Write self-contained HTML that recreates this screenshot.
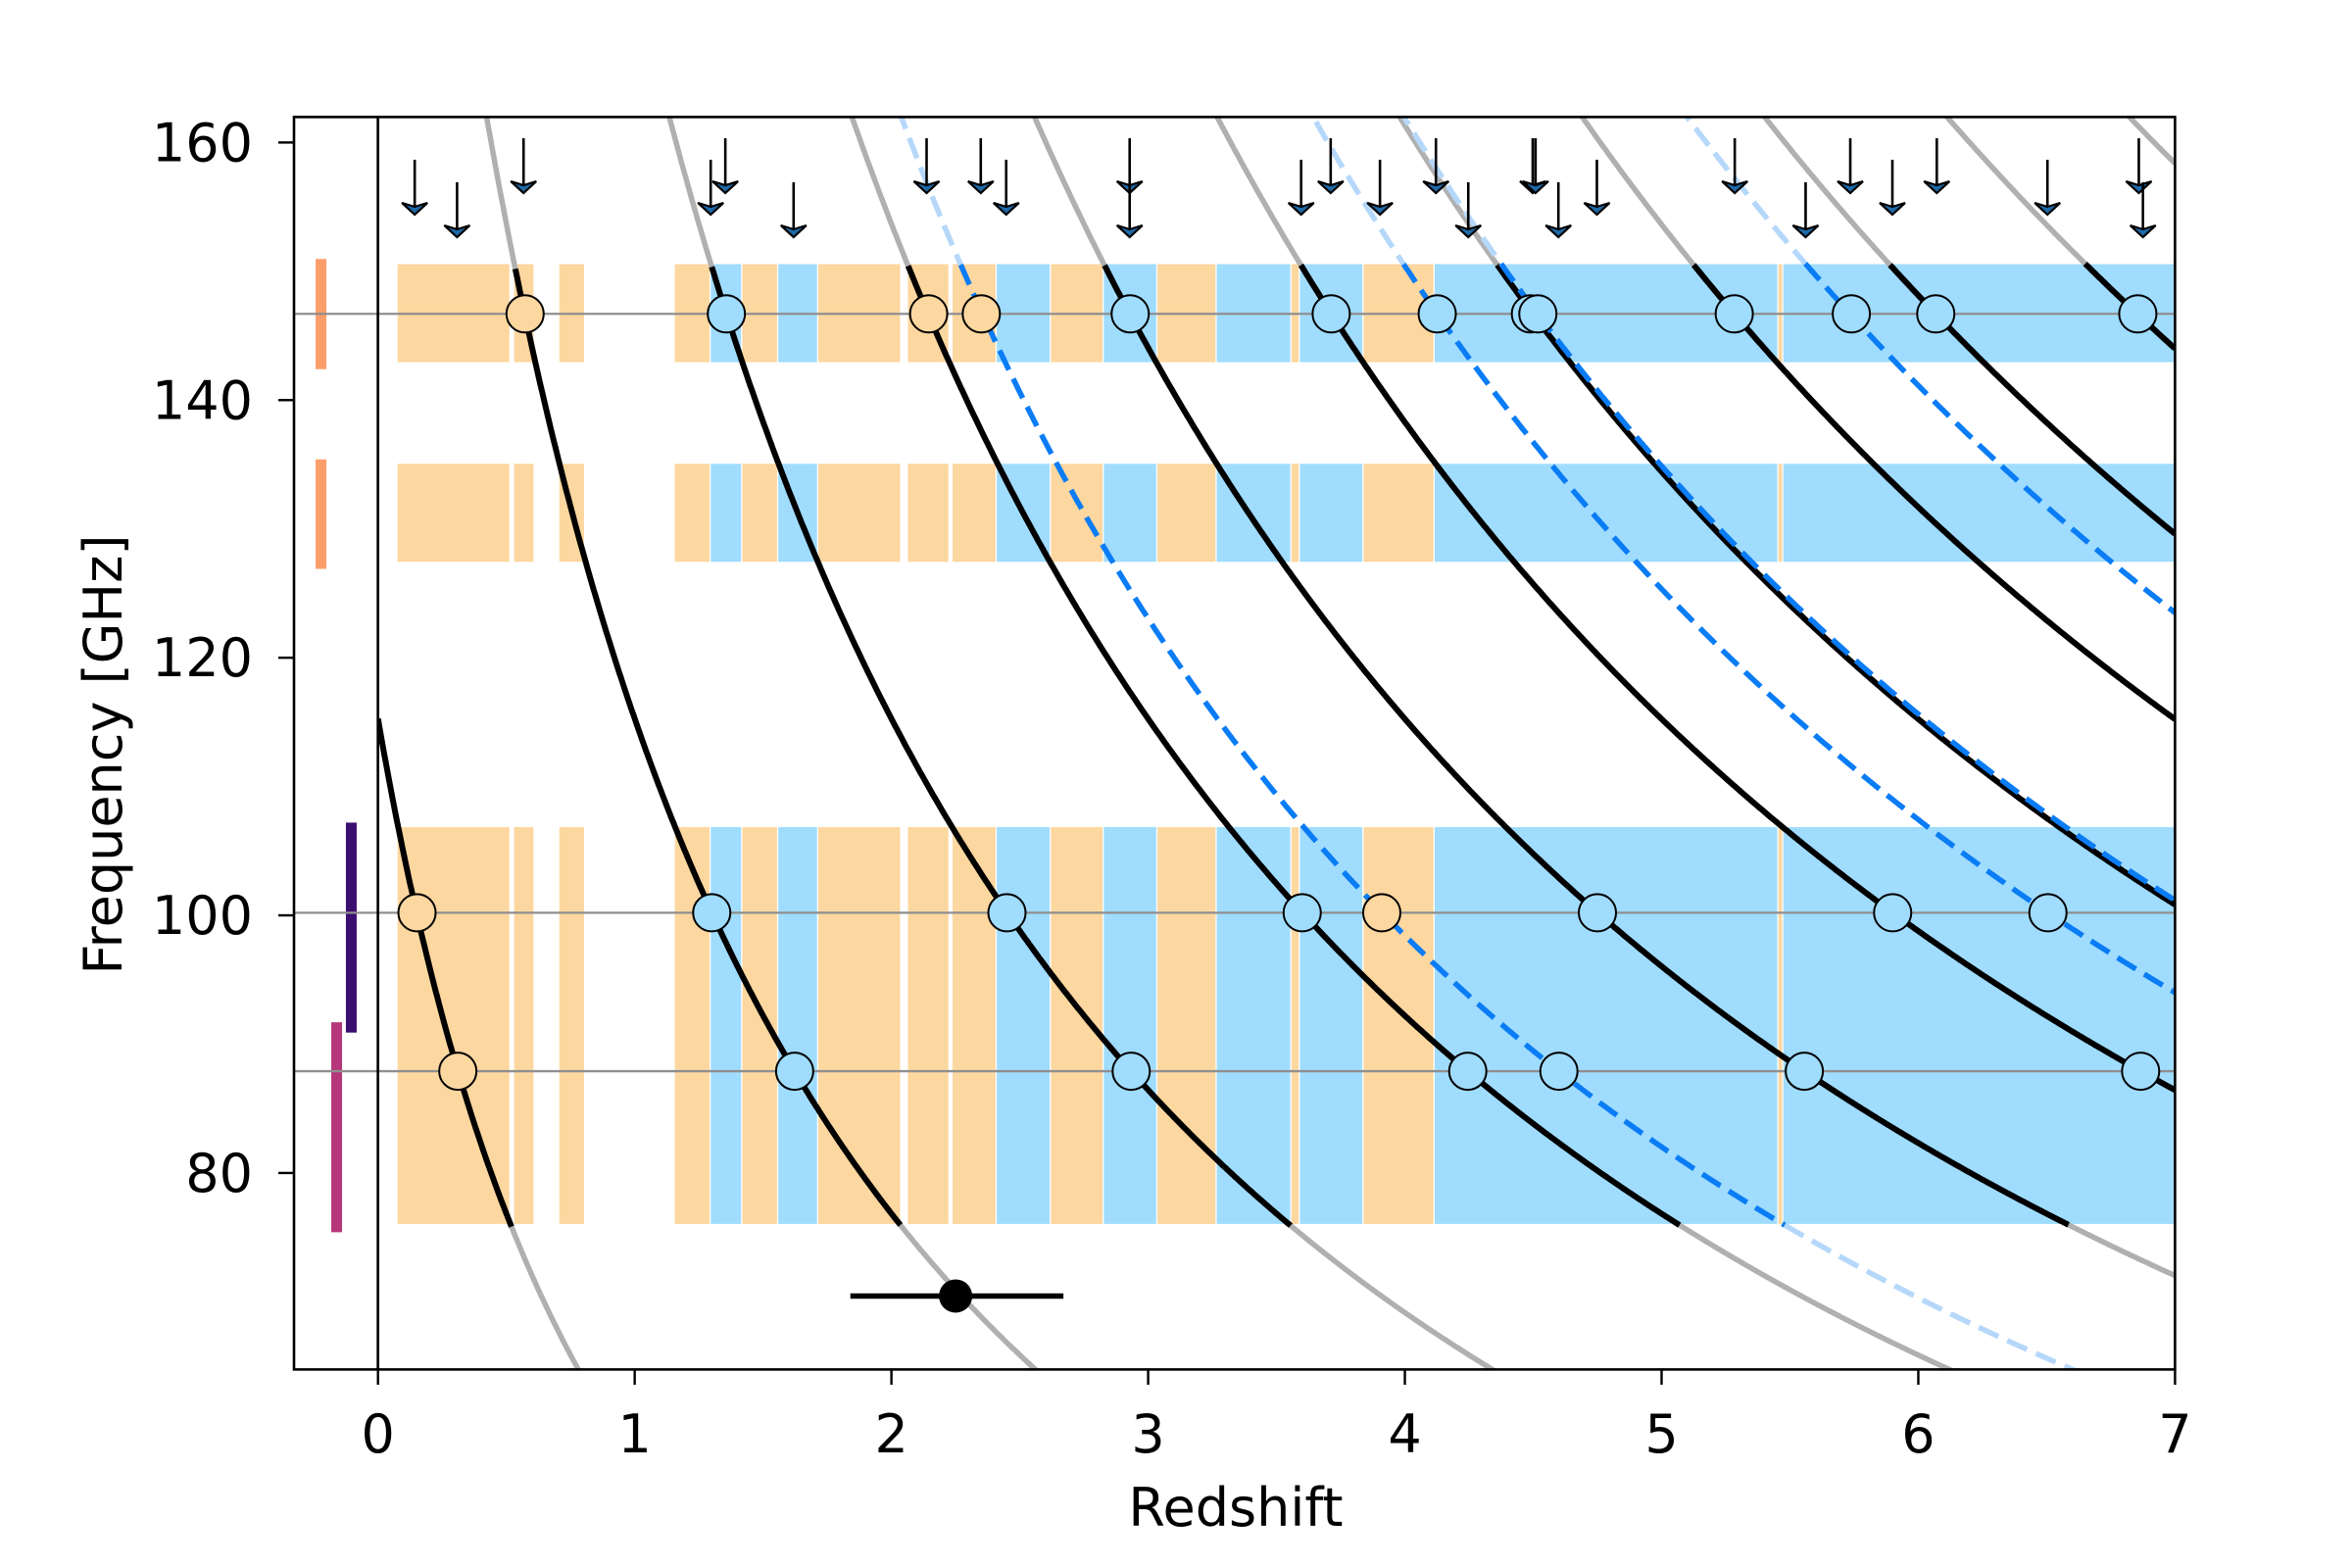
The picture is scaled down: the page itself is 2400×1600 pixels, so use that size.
<!DOCTYPE html>
<html><head><meta charset="utf-8"><style>
html,body{margin:0;padding:0;background:#fff;width:2400px;height:1600px;overflow:hidden}
svg{display:block}
text{font-family:"DejaVu Sans","Liberation Sans",sans-serif;fill:#000}
</style></head><body>
<svg id="chart" xmlns="http://www.w3.org/2000/svg" width="2400" height="1600" viewBox="0 0 2400 1600">
<defs>
<clipPath id="mainclip"><rect x="385.7" y="119.4" width="1833.7" height="1278"/></clipPath>
</defs>
<rect width="2400" height="1600" fill="#fff"/>
<g id="bands" clip-path="url(#mainclip)"></g>
<g id="leftpanel"></g>
<g id="rows"></g>
<g id="curves" clip-path="url(#mainclip)"></g>
<g id="markers"></g>
<g id="arrows"></g>
<g id="errpt"></g>
<g id="frame"></g>
<g id="ticks"></g>
<text x="1261" y="1557" font-size="54" text-anchor="middle">Redshift</text>
<text transform="translate(124,770) rotate(-90)" font-size="54" text-anchor="middle">Frequency [GHz]</text>
</svg>
<script>
// ---- data ----
const coRest = [115.27,230.54,345.80,461.04,576.27,691.47,806.65,921.80,1036.91,1151.99,1267.01];
const dashRest = [492.16,809.34,752.03,987.93];
const bandRanges = [[76.0,106.9],[127.4,135.1],[142.9,150.6]];
const segStart = [0.074,0.528,0.704,1.154,1.294,1.417,1.557,1.713,2.062,2.236,2.408,2.619,2.825,3.034,3.265,3.556,3.589,3.837,4.114,5.453,5.472];
const segEnd   = [0.514,0.608,0.805,1.294,1.417,1.557,1.713,2.036,2.224,2.408,2.619,2.825,3.034,3.265,3.556,3.589,3.837,4.114,5.453,5.472,7.0];
const segType  = ['o','o','o','o','b','o','b','o','o','o','b','o','b','o','b','o','b','o','b','o','b'];
const rowFreqs = [146.7,100.2,87.9];
const circZ    = [0.573,1.357,2.145,2.35,2.93,3.713,4.126,4.489,4.518,5.283,5.739,6.068,6.855, 0.152,1.30,2.45,3.60,3.91,4.75,5.90,6.505, 0.311,1.623,2.934,4.245,4.60,5.556,6.866];
const circF    = [146.7,146.7,146.7,146.7,146.7,146.7,146.7,146.7,146.7,146.7,146.7,146.7,146.7, 100.2,100.2,100.2,100.2,100.2,100.2,100.2,100.2, 87.9,87.9,87.9,87.9,87.9,87.9,87.9];
const circType = ['o','b','o','o','b','b','b','b','b','b','b','b','b', 'o','b','b','b','o','b','b','b', 'o','b','b','b','b','b','b'];
const arrowZ   = [0.143,0.308,0.567,1.296,1.353,1.619,2.137,2.348,2.447,2.928,2.928,3.596,3.711,3.903,4.121,4.247,4.498,4.509,4.598,4.748,5.285,5.561,5.735,5.899,6.072,6.503,6.859,6.875];
const arrowTip = [154.4,152.65,156.07,154.4,156.07,152.65,156.07,156.07,154.4,156.07,152.65,154.4,156.07,154.4,156.07,152.65,156.07,156.07,152.65,154.4,156.07,152.65,156.07,154.4,156.07,154.4,156.07,152.65];
const leftZ    = [-0.222,-0.222,-0.161,-0.104];
const leftLo   = [142.4,126.9,75.4,90.9];
const leftHi   = [150.96,135.4,91.7,107.2];
const leftCol  = ['#fc9e6c','#fc9e6c','#b5367a','#3b0f70'];
const ptZ = [2.25], ptF = [70.45], ptZlo = [1.84], ptZhi = [2.67];
const xTicks = [0,1,2,3,4,5,6,7];
const yTicks = [80,100,120,140,160];

// ---- axes ----
const X = z => 385.7 + z*261.96;
const Y = f => 145.4 + (160-f)*13.144;
const NS='http://www.w3.org/2000/svg';
function mk(tag, parent, attrs){const e=document.createElementNS(NS,tag);for(const k in attrs)e.setAttribute(k,attrs[k]);parent.appendChild(e);return e;}
const ORANGE='#fdd7a0', BLUE='#a0dcfd';

const gB=document.getElementById('bands');
bandRanges.forEach((br,bi)=>{
  segStart.forEach((s,i)=>{
    const r=mk('rect',gB,{x:X(s),y:Y(br[1]),width:X(segEnd[i])-X(s),height:Y(br[0])-Y(br[1]),fill:segType[i]==='o'?ORANGE:BLUE,stroke:'#fff','stroke-width':1.2});
    
    
  });
});

const gL=document.getElementById('leftpanel');
leftZ.forEach((z,i)=>{
  const r=mk('rect',gL,{x:X(z)-5.5,y:Y(leftHi[i]),width:11,height:Y(leftLo[i])-Y(leftHi[i]),fill:leftCol[i]});
  
  
});

const gR=document.getElementById('rows');
rowFreqs.forEach(f=>{
  const l=mk('line',gR,{x1:300,x2:X(7),y1:Y(f),y2:Y(f),stroke:'#8f8f8f','stroke-width':2.3});
  
  
});

const gC=document.getElementById('curves');
function track(rest, inColor, outColor, dash, name){
  const pts=[];
  for(let z=0; z<=7.0001; z+=0.005){pts.push([z, rest/(1+z)]);}
  let segs=[], cur=null, curIn=null;
  pts.forEach(p=>{
    const inside = p[1]>=76.0 && p[1]<=150.6;
    if(curIn!==inside){ if(cur){cur.pts.push(p); segs.push(cur);} cur={inside:inside,pts:cur?[cur.pts[cur.pts.length-1],p]:[p]}; curIn=inside; }
    else cur.pts.push(p);
  });
  if(cur) segs.push(cur);
  segs.sort((a,b)=>(a.inside?1:0)-(b.inside?1:0));
  segs.forEach(s=>{
    const d='M'+s.pts.map(p=>X(p[0]).toFixed(1)+','+Y(Math.max(40,Math.min(p[1],200))).toFixed(1)).join('L');
    const attrs={d:d,fill:'none',stroke:s.inside?inColor:outColor,'stroke-width':dash?5.5:(s.inside?6:5.5)};
    if(dash) attrs['stroke-dasharray']='22 10';
    const p=mk('path',gC,attrs);
    
    
  });
}
coRest.forEach(r=>track(r,'#000','#b0b0b0',false,'co-line-track'));
dashRest.forEach(r=>track(r,'#0a7cf5','#b5d8fa',true,'atomic-water-line-track'));

const gM=document.getElementById('markers');
circZ.forEach((z,i)=>{
  const c=mk('circle',gM,{cx:X(z),cy:Y(circF[i]),r:19,fill:circType[i]==='o'?ORANGE:BLUE,stroke:'#000','stroke-width':2});
  
  
});

const gA=document.getElementById('arrows');
arrowZ.forEach((z,i)=>{
  const x=X(z), ty=Y(arrowTip[i]);
  const l=mk('line',gA,{x1:x,x2:x,y1:ty-56,y2:ty-4,stroke:'#000','stroke-width':2.6});
  
  
  const h=mk('polygon',gA,{points:`${x-13},${ty-12} ${x},${ty-8} ${x+13},${ty-12} ${x},${ty}`,fill:'#1f6aa8',stroke:'#000','stroke-width':2.2,'stroke-linejoin':'miter'});
  
  
});

const gE=document.getElementById('errpt');
ptZ.forEach((z,i)=>{
  const l=mk('line',gE,{x1:X(ptZlo[i]),x2:X(ptZhi[i]),y1:Y(ptF[i]),y2:Y(ptF[i]),stroke:'#000','stroke-width':5.5});
  
  
  const c=mk('circle',gE,{cx:X(z),cy:Y(ptF[i]),r:17,fill:'#000'});
  
  
});

const gF=document.getElementById('frame');
const f1=mk('rect',gF,{x:300,y:119.4,width:85.7,height:1278,fill:'none',stroke:'#000','stroke-width':2.6});


const f2=mk('rect',gF,{x:385.7,y:119.4,width:1833.7,height:1278,fill:'none',stroke:'#000','stroke-width':2.6});



const gT=document.getElementById('ticks');
xTicks.forEach(t=>{
  const l=mk('line',gT,{x1:X(t),x2:X(t),y1:1397.4,y2:1413,stroke:'#000','stroke-width':2.4});
  
  
  const tx=mk('text',gT,{x:X(t),y:1482,'font-size':54,'text-anchor':'middle'});
  tx.textContent=String(t);
  
  
});
yTicks.forEach(t=>{
  const l=mk('line',gT,{x1:284,x2:300,y1:Y(t),y2:Y(t),stroke:'#000','stroke-width':2.4});
  
  
  const tx=mk('text',gT,{x:258,y:Y(t)+19,'font-size':54,'text-anchor':'end'});
  tx.textContent=String(t);
  
  
});
</script>
</body></html>
